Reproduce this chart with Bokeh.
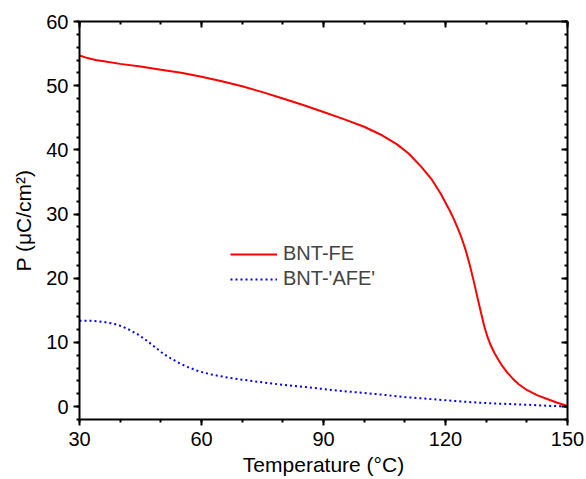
from bokeh.plotting import figure
from bokeh.models import Range1d, LinearAxis, Legend, LegendItem, SingleIntervalTicker
from bokeh.embed import file_html
from bokeh.resources import INLINE

# Data
fe_temp = [30, 32, 34, 36, 40, 45, 50, 55, 60, 65, 70, 75, 80, 85, 90, 95, 100, 104, 108,
           111, 114, 116.5, 118.8, 121, 122, 123, 124, 125, 126, 127, 128, 128.7, 129.5,
           130.3, 131.1, 132, 133, 134, 135.2, 136.5, 138, 140, 142.5, 145, 147.5, 150]
fe_pol = [54.7, 54.3, 54.0, 53.8, 53.4, 53.0, 52.5, 52.0, 51.4, 50.7, 49.9, 49.0, 48.0,
          47.0, 45.9, 44.8, 43.6, 42.4, 40.9, 39.4, 37.4, 35.5, 33.2, 30.6, 29.3, 27.8,
          26.2, 24.3, 22.0, 19.4, 16.6, 14.7, 12.6, 10.9, 9.6, 8.4, 7.3, 6.3, 5.3, 4.4,
          3.5, 2.6, 1.8, 1.2, 0.6, 0.1]
afe_temp = [30, 33, 36, 38.5, 40.5, 42.5, 44.5, 46.5, 48.5, 50.5, 52.5, 54.5, 56.5, 59.4,
            62.5, 65.9, 70, 74.9, 80, 86.4, 92, 98.7, 104, 110, 116, 122, 128.7, 134, 140,
            145, 150]
afe_pol = [13.4, 13.4, 13.2, 12.9, 12.5, 11.9, 11.2, 10.3, 9.3, 8.3, 7.5, 6.8, 6.2, 5.5,
           5.0, 4.6, 4.2, 3.8, 3.4, 3.0, 2.6, 2.2, 1.9, 1.5, 1.2, 0.9, 0.6, 0.45, 0.3,
           0.15, 0.0]

x_major_step = 30
x_minor_count = 3
y_major_step = 10
y_minor_count = 5

FONT = "Liberation Sans"

p = figure(width=586, height=479, output_backend="svg", toolbar_location=None,
           x_range=Range1d(30, 150), y_range=Range1d(-2, 60),
           min_border_left=79, min_border_right=19, min_border_top=21, min_border_bottom=60)
p.grid.visible = False
p.outline_line_color = None

r1 = p.line(fe_temp, fe_pol, line_color="#ff0000", line_width=2)
r2 = p.line(afe_temp, afe_pol, line_color="#0000ff", line_width=2, line_dash="2 3")


def style(ax, step, nminor, inward=False):
    ax.ticker = SingleIntervalTicker(interval=step, num_minor_ticks=nminor)
    ax.axis_line_width = 2
    ax.axis_line_color = "black"
    ax.major_tick_line_width = 2
    ax.minor_tick_line_width = 2
    ax.major_tick_line_color = "black"
    ax.minor_tick_line_color = "black"
    if inward:
        ax.major_tick_in = 6
        ax.major_tick_out = 0
        ax.minor_tick_in = 3
        ax.minor_tick_out = 0
    else:
        ax.major_tick_in = 0
        ax.major_tick_out = 6
        ax.minor_tick_in = 0
        ax.minor_tick_out = 3
    ax.major_label_text_font = FONT
    ax.major_label_text_font_size = "20px"
    ax.major_label_text_color = "black"


top = LinearAxis()
right = LinearAxis()
p.add_layout(top, "above")
p.add_layout(right, "right")
style(p.below[0], x_major_step, x_minor_count)
style(p.left[0], y_major_step, y_minor_count)
style(top, x_major_step, x_minor_count, inward=True)
style(right, y_major_step, y_minor_count, inward=True)
top.major_label_text_color = None
right.major_label_text_color = None
top.major_label_text_font_size = "1px"
right.major_label_text_font_size = "1px"

for ax, lab in ((p.below[0], "Temperature (°C)"), (p.left[0], "P (μC/cm²)")):
    ax.axis_label = lab
    ax.axis_label_text_font = FONT
    ax.axis_label_text_font_size = "21px"
    ax.axis_label_text_font_style = "normal"
    ax.axis_label_text_color = "black"
p.below[0].axis_label_standoff = 4
p.below[0].major_label_standoff = 6
p.left[0].axis_label_standoff = 8
p.left[0].major_label_standoff = 5

legend = Legend(items=[LegendItem(label="BNT-FE", renderers=[r1]),
                       LegendItem(label="BNT-'AFE'", renderers=[r2])],
                location=(151, 129), border_line_color=None, background_fill_alpha=0,
                label_text_font=FONT, label_text_font_size="20px",
                glyph_width=47, glyph_height=20, label_standoff=6, spacing=2,
                padding=0, margin=0)
p.add_layout(legend, "center")

open("out.html", "w").write(file_html(p, INLINE))
